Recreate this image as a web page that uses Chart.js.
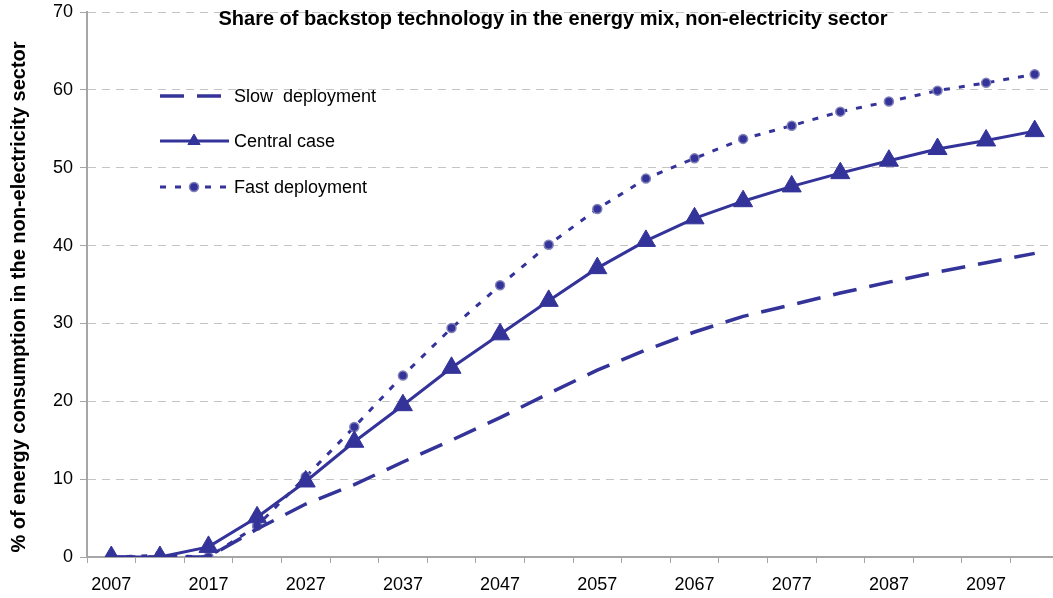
<!DOCTYPE html>
<html>
<head>
<meta charset="utf-8">
<script src="https://cdn.jsdelivr.net/npm/chart.js@4"></script>
<style>
  html, body { margin: 0; padding: 0; background: #fff; overflow: hidden; }
</style>
</head>
<body>
<canvas id="backstopChart" width="1060" height="598"></canvas>
<script>
const years = [2007, 2012, 2017, 2022, 2027, 2032, 2037, 2042, 2047, 2052,
               2057, 2062, 2067, 2072, 2077, 2082, 2087, 2092, 2097, 2102];
const slowDeployment = [0, 0, 0, 3.6, 6.8, 9.3, 12.2, 15.0, 17.9, 21.0,
                        24.0, 26.6, 28.9, 30.9, 32.4, 33.9, 35.3, 36.6, 37.8, 39.0];
const centralCase = [0, 0, 1.3, 5.1, 9.7, 14.8, 19.5, 24.3, 28.6, 32.9,
                     37.1, 40.6, 43.5, 45.7, 47.6, 49.3, 50.9, 52.4, 53.5, 54.7];
const fastDeployment = [0, 0.2, 0, 4.0, 10.3, 16.7, 23.3, 29.4, 34.9, 40.1,
                        44.7, 48.6, 51.2, 53.7, 55.4, 57.2, 58.5, 59.9, 60.9, 62.0];
const yTicks = [0, 10, 20, 30, 40, 50, 60, 70];

const chartTitle = 'Share of backstop technology in the energy mix, non-electricity sector';
const yTitle = '% of energy consumption in the non-electricity sector';
const FONT = "'Liberation Sans', Arial, sans-serif";
const NAVY = '#333399';

const ctx = document.getElementById('backstopChart').getContext('2d');

// title, rotated axis title and the legend sit inside the plot, so draw them by hand
const overlay = {
  id: 'overlay',
  afterDraw(chart) {
    const c = chart.ctx;
    c.save();
    c.fillStyle = '#000';
    c.font = 'bold 20px ' + FONT;
    c.textAlign = 'center';
    c.textBaseline = 'middle';
    c.fillText(chartTitle, 553, 19);

    c.translate(19, 297);
    c.rotate(-Math.PI / 2);
    c.fillText(yTitle, 0, 0);
    c.restore();

    const rows = [96, 141, 187];
    chart.data.datasets.forEach((ds, i) => {
      const y = rows[i];
      c.save();
      c.strokeStyle = ds.borderColor;
      c.lineWidth = ds.borderWidth;
      c.setLineDash(ds.borderDash || []);
      c.beginPath();
      c.moveTo(160, y);
      c.lineTo(229, y);
      c.stroke();
      c.setLineDash([]);
      const r = ds.pointRadius;
      if (r > 0) {
        c.fillStyle = ds.pointBackgroundColor;
        c.strokeStyle = ds.pointBorderColor;
        c.lineWidth = ds.pointBorderWidth;
        c.beginPath();
        if (ds.pointStyle === 'triangle') {
          const s = 7;
          c.moveTo(194, y - s);
          c.lineTo(194 + s * 0.87, y + s * 0.5);
          c.lineTo(194 - s * 0.87, y + s * 0.5);
          c.closePath();
        } else {
          c.arc(194, y, r, 0, Math.PI * 2);
        }
        c.fill();
        c.stroke();
      }
      c.fillStyle = '#000';
      c.font = '18px ' + FONT;
      c.textAlign = 'left';
      c.textBaseline = 'middle';
      c.fillText(ds.label, 234, y + 1);
      c.restore();
    });
  }
};

new Chart(ctx, {
  type: 'line',
  data: {
    labels: years.map(String),
    datasets: [
      {
        label: 'Slow  deployment',
        data: slowDeployment,
        borderColor: NAVY,
        borderWidth: 3.5,
        borderDash: [24, 13],
        pointRadius: 0,
        tension: 0
      },
      {
        label: 'Central case',
        data: centralCase,
        borderColor: NAVY,
        borderWidth: 3,
        pointStyle: 'triangle',
        pointRadius: 11,
        pointBackgroundColor: NAVY,
        pointBorderColor: NAVY,
        pointBorderWidth: 1,
        tension: 0
      },
      {
        label: 'Fast deployment',
        data: fastDeployment,
        borderColor: NAVY,
        borderWidth: 3,
        borderDash: [6, 9],
        pointStyle: 'circle',
        pointRadius: 4.5,
        pointBackgroundColor: NAVY,
        pointBorderColor: '#8282b8',
        pointBorderWidth: 1.5,
        tension: 0
      }
    ]
  },
  options: {
    responsive: false,
    animation: false,
    devicePixelRatio: 1,
    // canvas is a bit wider than the window: the plot runs past the right edge, as in the source
    layout: { autoPadding: false, padding: { top: 12, left: 0, right: 1, bottom: 0 } },
    plugins: {
      legend: { display: false },
      title: { display: false },
      tooltip: { enabled: false }
    },
    scales: {
      x: {
        type: 'category',
        offset: true,
        grid: {
          offset: true,
          drawOnChartArea: false,
          tickLength: 6,
          color: '#a6a6a6'
        },
        border: { color: '#a6a6a6', width: 2 },
        ticks: {
          autoSkip: false,
          maxRotation: 0,
          padding: 11,
          color: '#000',
          font: { family: FONT, size: 18 },
          callback: (v, i) => (i % 2 === 0 ? years[i] : '')
        },
        afterFit: s => {
          s.height = 41;
          s.paddingLeft = 0;
          s.paddingRight = 0;
        }
      },
      y: {
        min: 0,
        max: 70,
        afterBuildTicks: s => { s.ticks = yTicks.map(v => ({ value: v })); },
        grid: {
          color: '#c4c4c4',
          tickColor: '#a6a6a6',
          tickLength: 7,
          tickBorderDash: []
        },
        border: { color: '#a6a6a6', width: 2, dash: [8, 6] },
        ticks: {
          padding: 7,
          color: '#000',
          font: { family: FONT, size: 18, lineHeight: 0.5 }
        },
        afterFit: s => { s.width = 87; }
      }
    }
  },
  plugins: [overlay]
});
</script>
</body>
</html>
